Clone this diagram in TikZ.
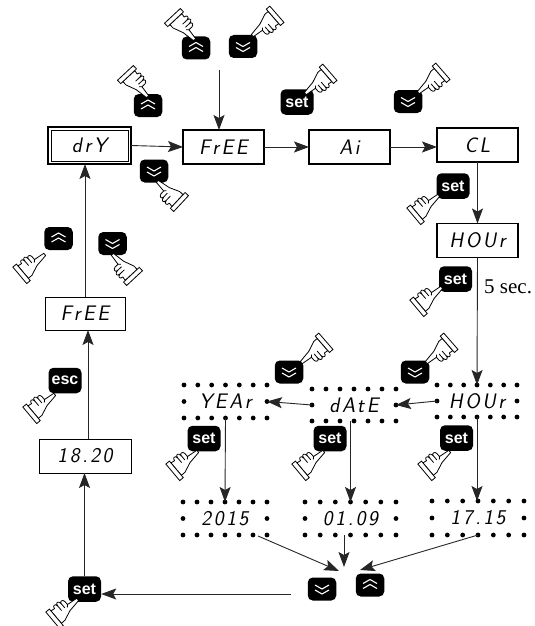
\documentclass[tikz,border=0pt]{standalone}
\usepackage{fontspec}
\usetikzlibrary{arrows.meta,calc}
\newfontfamily\keyfont{Liberation Sans}
\newfontfamily\notefont{Liberation Serif}
\newfontfamily\segfont{Latin Modern Sans}[FakeSlant=0.18,LetterSpace=12]
\tikzset{
  dispbox/.style={draw,line width=1.4pt,minimum width=81pt,minimum height=34pt,inner sep=0pt,outer sep=0pt,font=\segfont\fontsize{21}{21}\selectfont},
  thinbox/.style={dispbox,line width=.8pt},
  dotbox/.style={minimum width=83pt,minimum height=33pt,inner sep=0pt,outer sep=0pt,font=\segfont\fontsize{21}{21}\selectfont},
  keybox/.style={fill=black,rounded corners=5pt,inner sep=0pt,text=white},
  setkey/.style={keybox,minimum width=33pt,minimum height=25.5pt,font=\keyfont\bfseries\fontsize{16}{16}\selectfont},
  chevkey/.style={keybox,minimum width=28.5pt,minimum height=23pt},
  upkey/.style={chevkey,path picture={
    \foreach \dy in {-3,2}
      \draw[white,sharp corners,line width=1.1pt] ($(path picture bounding box.center)+(-7,1.5+\dy)$) -- ++(7,-4) -- ++(7,4);}},
  downkey/.style={chevkey,path picture={
    \foreach \dy in {-3,2}
      \draw[white,sharp corners,line width=1.1pt] ($(path picture bounding box.center)+(-7,-1+\dy)$) -- ++(7,4) -- ++(7,-4);}},
  flow/.style={draw=black!85,line width=.9pt,-{Stealth[length=15pt,width=11pt,inset=3pt]}},
  hand/.pic={
    \draw[fill=white,line width=.8pt,line join=round] (1,-1.2) -- (-11,-2.2) -- (-11,-5.5)
      .. controls (-11.5,-8.5) and (-15.5,-8.5) .. (-15.5,-6)
      .. controls (-16,-10) and (-20,-10) .. (-20,-6.5)
      .. controls (-20.5,-10) and (-24.5,-9.5) .. (-24.5,-6.5)
      -- (-29,-7) -- (-29,6.5) -- (-24,6.5) -- (-13,3) -- (1,1.2)
      .. controls (1.6,.6) and (1.6,-.6) .. (1,-1.2) -- cycle;
    \draw[line width=.8pt] (-15.5,-6) -- (-15.5,-1.5) (-20,-6.5) -- (-20,-1.5) (-11,-2.2) -- (-13,-.5);
    \draw[fill=white,line width=.8pt] (-34,-9) rectangle (-29,9);
  }
}
\begin{document}
\begin{tikzpicture}[x=1pt,y=-1pt]
  \useasboundingbox (0,0) rectangle (535,626);
  % display boxes
  \node[dispbox,minimum width=83pt,minimum height=37pt] (dry) at (89.5,145.5) {drY};
  \node[dispbox] (free) at (223.5,147) {FrEE};
  \node[dispbox] (ai) at (349.5,147) {Ai};
  \node[dispbox] (cl) at (477.5,145) {CL};
  \node[dispbox] (hour) at (477.5,240.5) {HOUr};
  \node[thinbox,minimum width=80pt,minimum height=33pt] (freeb) at (85,313.5) {FrEE};
  \node[thinbox,minimum width=92pt] (clock) at (85,456) {18.20};
  \draw[line width=.6pt] ($(dry.north west)+(3,3)$) rectangle ($(dry.south east)+(-3,-3)$);
  % blinking displays
  \node[dotbox] (year) at (225.5,401.5) {YEAr};
  \node[dotbox,minimum width=84pt,minimum height=32pt] (date) at (354,405) {dAtE};
  \node[dotbox,minimum width=80pt,minimum height=32pt] (hourb) at (477,401) {HOUr};
  \node[dotbox,minimum width=84pt] (yval) at (225,518.5) {2015};
  \node[dotbox,minimum width=91pt] (dval) at (350.5,518.5) {01.09};
  \node[dotbox,minimum width=92pt,minimum height=34pt] (tval) at (478,518) {17.15};
  \foreach \n in {year,date,hourb,yval,dval,tval} {
    \foreach \t in {0,...,6} {
      \fill ($(\n.north west)!\t/6!(\n.north east)$) circle (2.4pt);
      \fill ($(\n.south west)!\t/6!(\n.south east)$) circle (2.4pt);
    }
    \fill (\n.west) circle (2.4pt);
    \fill (\n.east) circle (2.4pt);
  }
  % keys
  \node[upkey] (upa) at (196,48) {};
  \node[downkey] (downa) at (243,46.5) {};
  \node[upkey] (upb) at (148,105.5) {};
  \node[downkey] (downb) at (154,171) {};
  \node[setkey] (seta) at (297,102) {set};
  \node[downkey] (downc) at (408,101.5) {};
  \node[setkey] (setb) at (453,186) {set};
  \node[setkey] (setc) at (455.5,279) {set};
  \node[downkey] (downd) at (289,372) {};
  \node[downkey] (downe) at (415,372) {};
  \node[setkey] (setd) at (204,438.5) {set};
  \node[setkey] (sete) at (330,438.5) {set};
  \node[setkey] (setf) at (456.5,438) {set};
  \node[downkey] (downf) at (322,589) {};
  \node[upkey] (upc) at (370,585) {};
  \node[setkey] (setg) at (84.5,589) {set};
  \node[upkey] (upd) at (58.5,238.5) {};
  \node[downkey] (downg) at (112.5,243.5) {};
  \node[setkey] (esc) at (65,380.5) {esc};
  % hands
  \foreach \px/\py/\ang in {194/39/-47,147/96/-47,253/35/221,158/182/137,306/93/221,419/92/221,
      438/196/40,441/288/40,302/362/221,427/362/221,197/452/40,323/452/40,449/452/40,
      44/255/40,113/255/133,54/395/40,77/600/40}
    \pic[rotate=\ang,xscale=.93,yscale=1.2] at (\px,\py) {hand};
  % arrows
  \coordinate (topin) at (219,70);
  \coordinate (mergea) at (339,571);
  \coordinate (mergeb) at (344,567);
  \coordinate (mergec) at (360,570);
  \coordinate (leftout) at (291,594);
  \draw[flow] (topin) -- (topin |- free.north);
  \draw[flow] (dry.east) -- (free.west);
  \draw[flow] (free.east) -- (ai.west);
  \draw[flow] (ai.east) -- (cl.west |- ai.east);
  \draw[flow] (cl.south) -- (hour.north);
  \draw[flow] (hour.south) -- (hourb.north);
  \draw[flow] (hourb.west) -- (date.east);
  \draw[flow] (date.west) -- (year.east);
  \draw[flow] (year.south) -- (yval.north);
  \draw[flow] (date.south -| dval.north) -- (dval.north);
  \draw[flow] (hourb.south) -- (tval.north -| hourb.south);
  \draw[flow] ($(yval.south east)+(-9,1)$) -- (mergea);
  \draw[flow] (mergeb |- dval.south) -- (mergeb);
  \draw[flow] (tval.south) -- (mergec);
  \draw[flow] (leftout) -- (leftout -| setg.east);
  \draw[flow] (setg.north) -- (clock.south -| setg.north);
  \draw[flow] ([xshift=3pt]clock.north) -- ([xshift=3pt]freeb.south);
  \draw[flow] (freeb.north) -- (dry.south -| freeb.north);
  \node[font=\notefont\fontsize{21}{21}\selectfont,anchor=west,inner sep=0pt] (wait) at (484,287) {5 sec.};
\end{tikzpicture}
\end{document}
